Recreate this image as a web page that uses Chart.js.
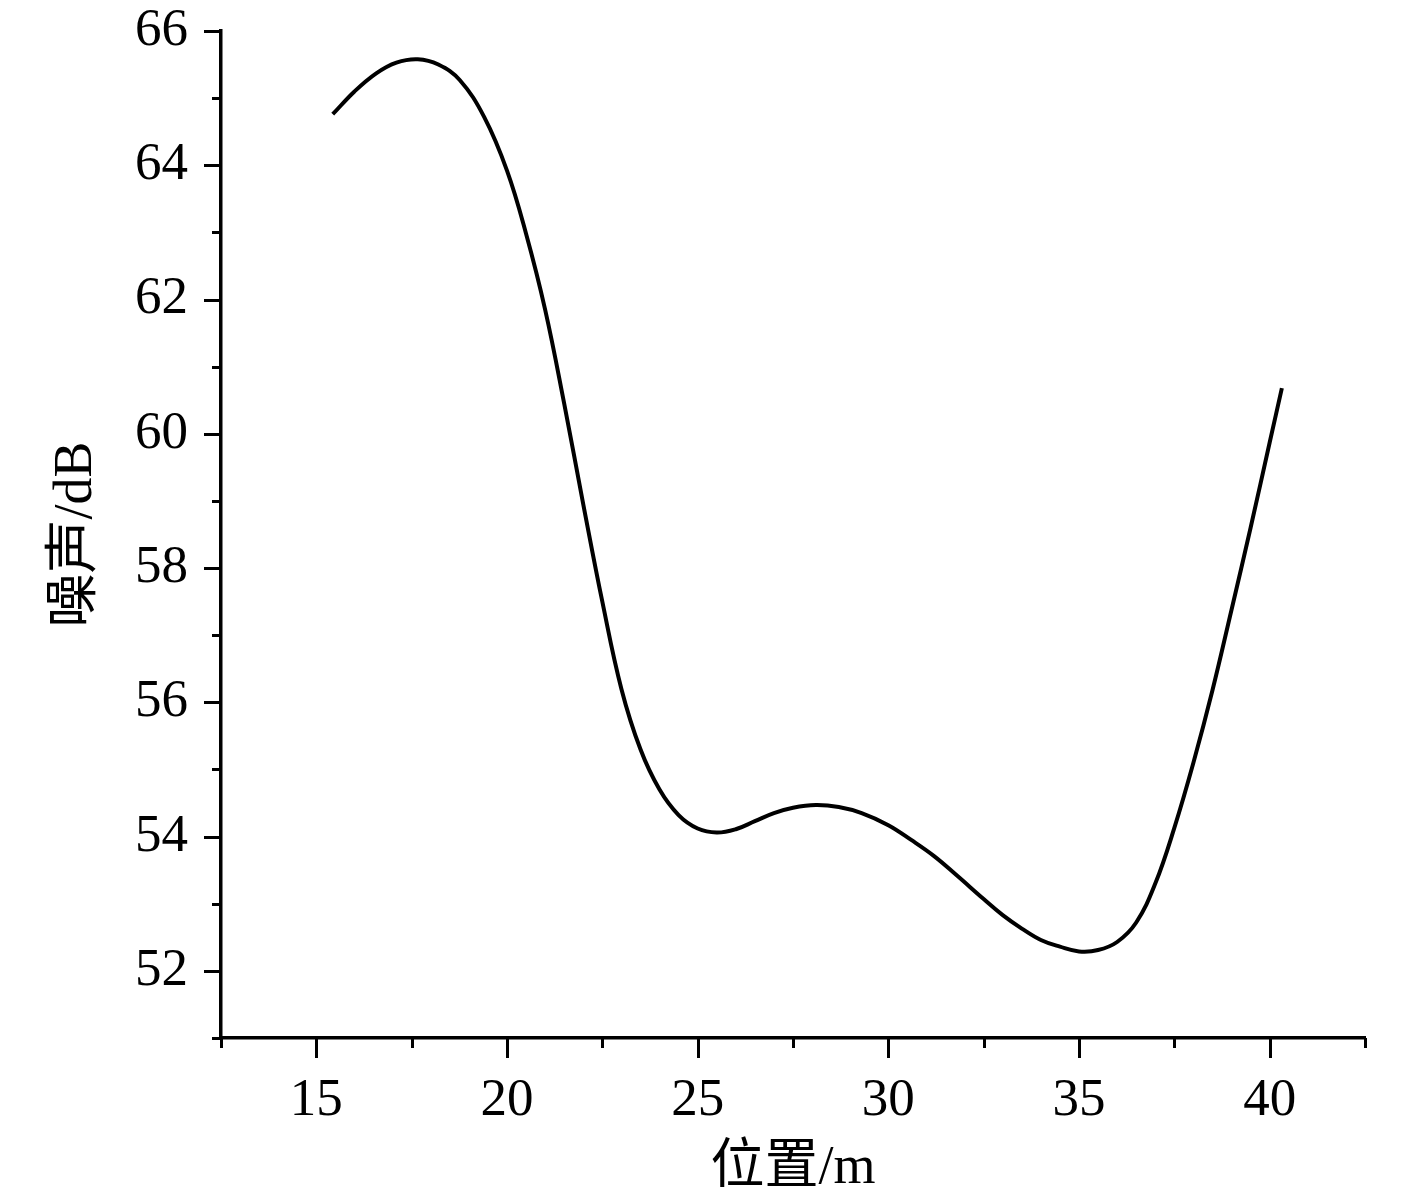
<!DOCTYPE html>
<html>
<head>
<meta charset="utf-8">
<script src="https://cdn.jsdelivr.net/npm/chart.js@4"></script>
<style>
  html, body { margin: 0; padding: 0; background: #fff; }
  #wrap { width: 1417px; height: 1200px; }
</style>
</head>
<body>
<div id="wrap"><canvas id="noise-line" width="1417" height="1200"></canvas></div>
<script>
// position (m)
const positions = [15.43, 16.0, 16.57, 17.1, 17.66, 18.2, 18.76, 19.4, 20.0, 20.5,
    21.0, 21.5, 22.0, 22.5, 23.0, 23.5, 24.0, 24.5, 25.0, 25.5,
    26.0, 26.5, 27.0, 27.5, 28.1, 28.7, 29.3, 30.0, 30.6, 31.2,
    31.8, 32.5, 33.0, 33.5, 34.0, 34.5, 35.0, 35.5, 36.0, 36.5,
    37.0, 37.5, 38.0, 38.5, 39.0, 39.5, 40.0, 40.32]
// noise (dB)
const noise = [64.76, 65.1, 65.37, 65.53, 65.58, 65.5, 65.27, 64.72, 63.92, 62.98,
    61.85, 60.45, 58.95, 57.5, 56.2, 55.3, 54.7, 54.32, 54.12, 54.06,
    54.11, 54.23, 54.35, 54.43, 54.47, 54.44, 54.35, 54.17, 53.95, 53.71,
    53.42, 53.07, 52.83, 52.63, 52.46, 52.36, 52.29, 52.31, 52.43, 52.72,
    53.3, 54.13, 55.1, 56.18, 57.38, 58.6, 59.87, 60.68]

const xMajor = [15, 20, 25, 30, 35, 40]
const yMajor = [52, 54, 56, 58, 60, 62, 64, 66]

const serif = "'Liberation Serif', 'Times New Roman', 'Noto Sans CJK SC', serif"

// ticks drawn by hand so minor ones can be shorter
const tickMarks = {
    id: 'tickMarks',
    afterDraw(chart){
        const ctx = chart.ctx
        const {x, y} = chart.scales
        const area = chart.chartArea
        ctx.save()
        ctx.strokeStyle = '#000'
        ctx.lineWidth = 3
        ctx.beginPath()
        for(let t of y.ticks){
            let py = Math.round(y.getPixelForValue(t.value)) + 0.5
            let len = yMajor.includes(t.value) ? 17 : 9
            ctx.moveTo(area.left, py)
            ctx.lineTo(area.left - len, py)
        }
        for(let t of x.ticks){
            let px = Math.round(x.getPixelForValue(t.value)) + 0.5
            let len = xMajor.includes(t.value) ? 20 : 10
            ctx.moveTo(px, area.bottom)
            ctx.lineTo(px, area.bottom + len)
        }
        ctx.stroke()
        ctx.restore()
    }
}

const noiseLine = new Chart(
    document.getElementById('noise-line').getContext('2d'),
    {
        type: 'line',
        data: {
            datasets: [{
                data: positions.map((p, i) => ({x: p, y: noise[i]})),
                borderColor: '#000',
                borderWidth: 4,
                pointRadius: 0,
                tension: 0.4,
                fill: false
            }]
        },
        options: {
            responsive: false,
            animation: false,
            layout: {padding: {top: 31, right: 52, left: 0, bottom: 0}},
            plugins: {legend: {display: false}, tooltip: {enabled: false}},
            scales: {
                x: {
                    type: 'linear',
                    min: 12.5,
                    max: 42.5,
                    afterFit: (s) => { s.height = 162; s.paddingLeft = 0; s.paddingRight = 0 },
                    grid: {display: false, drawTicks: false},
                    border: {display: true, color: '#000', width: 3.5},
                    ticks: {
                        stepSize: 2.5,
                        autoSkip: false,
                        maxRotation: 0,
                        padding: 37,
                        color: '#000',
                        font: {family: serif, size: 53, lineHeight: 1},
                        callback: (v) => xMajor.includes(v) ? String(v) : ''
                    },
                    title: {
                        display: true,
                        text: '位置/m',
                        color: '#000',
                        padding: {top: 0, bottom: 4},
                        font: {family: serif, size: 54, lineHeight: 1}
                    }
                },
                y: {
                    min: 51,
                    max: 66,
                    afterFit: (s) => { s.width = 221; s.paddingTop = 0; s.paddingBottom = 0 },
                    grid: {display: false, drawTicks: false},
                    border: {display: true, color: '#000', width: 3.5},
                    ticks: {
                        stepSize: 1,
                        autoSkip: false,
                        padding: 33,
                        color: '#000',
                        font: {family: serif, size: 53, lineHeight: 1},
                        callback: (v) => yMajor.includes(v) ? String(v) : ''
                    },
                    title: {
                        display: true,
                        text: '噪声/dB',
                        color: '#000',
                        padding: {top: 50, bottom: 0},
                        font: {family: serif, size: 54, lineHeight: 1}
                    }
                }
            }
        },
        plugins: [tickMarks]
    }
)

noiseLine.update()
</script>
</body>
</html>
